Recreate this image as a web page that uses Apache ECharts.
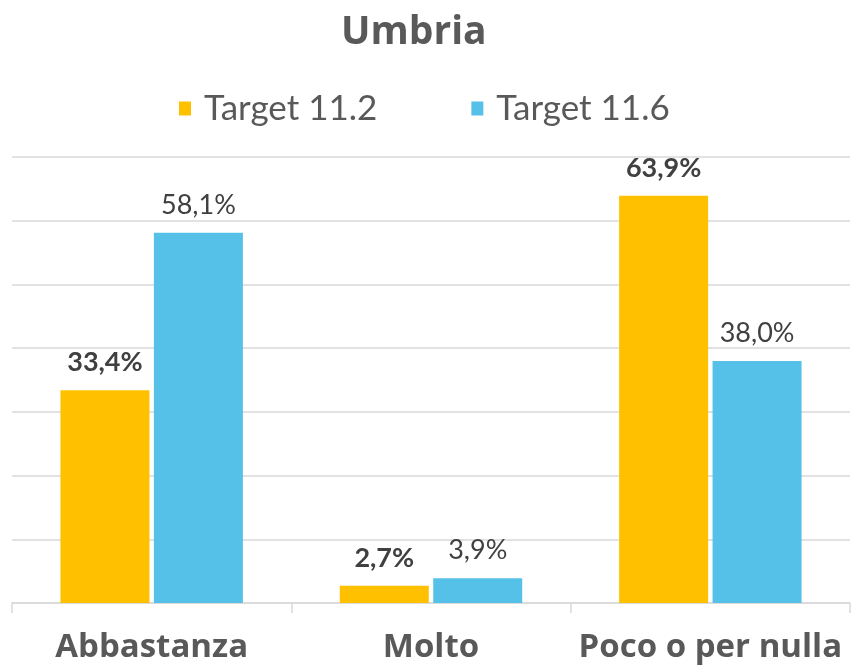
<!DOCTYPE html>
<html><head><meta charset="utf-8">
<script src="https://cdn.jsdelivr.net/npm/echarts@6/dist/echarts.min.js"></script>
<style>html,body{margin:0;padding:0;background:#fff}#c{width:856px;height:668px}</style>
</head><body><div id="c"></div>
<script>
const categories = ['Abbastanza', 'Molto', 'Poco o per nulla'];
const seriesNames = ['Target 11.2', 'Target 11.6'];
const target112 = [33.4, 2.7, 63.9];
const target116 = [58.1, 3.9, 38.0];

const fmt = p => p.value.toFixed(1).replace('.', ',') + '%';
const chart = echarts.init(document.getElementById('c'));
chart.setOption({
  animation: false,
  title: { text: 'Umbria', left: 336, top: 8,
    textStyle: { fontFamily: 'Open Sans', fontWeight: 'bold', fontSize: 39, color: '#595959' } },
  legend: { top: 86, left: 174, itemWidth: 12, itemHeight: 14, itemGap: 94,
    icon: 'rect',
    textStyle: { fontFamily: 'Lato', fontSize: 35, color: '#595959', padding: [0, 0, 0, 8] } },
  grid: { left: 12, right: 6, top: 157, bottom: 65 },
  xAxis: { type: 'category', data: categories,
    axisLine: { lineStyle: { color: '#d9d9d9', width: 1.5 } },
    axisTick: { show: true, interval: 0, length: 10, lineStyle: { color: '#d9d9d9', width: 1.5 } },
    axisLabel: { interval: 0, margin: 28, fontFamily: 'Open Sans', fontWeight: 'bold', fontSize: 33, color: '#595959' } },
  yAxis: { type: 'value', min: 0, max: 70, interval: 10,
    axisLabel: { show: false }, axisLine: { show: false }, axisTick: { show: false },
    splitLine: { lineStyle: { color: '#d9d9d9', width: 1.5 } } },
  series: [
    { name: seriesNames[0], type: 'bar', data: target112, barWidth: 89, barGap: '5%',
      itemStyle: { color: '#FFC000' },
      label: { show: true, position: 'top', distance: 14, formatter: fmt,
        fontFamily: 'Lato', fontWeight: 'bold', fontSize: 27, color: '#404040' } },
    { name: seriesNames[1], type: 'bar', data: target116, barWidth: 89,
      itemStyle: { color: '#56C1E8' },
      label: { show: true, position: 'top', distance: 14, formatter: fmt,
        fontFamily: 'Lato', fontSize: 27, color: '#404040' } }
  ]
});
</script></body></html>
